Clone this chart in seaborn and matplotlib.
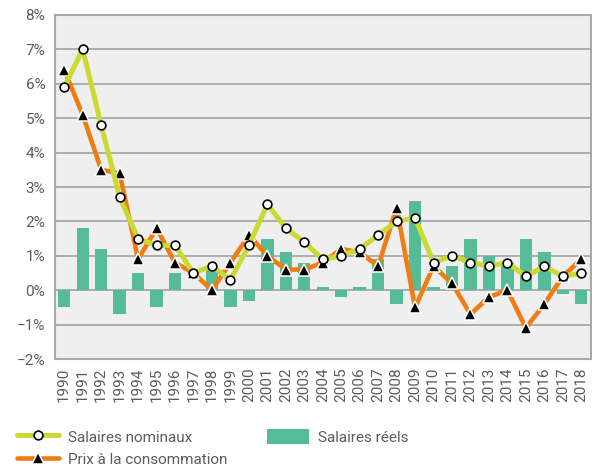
import numpy as np
import pandas as pd
import matplotlib
matplotlib.use("Agg")
import matplotlib.pyplot as plt
from matplotlib.lines import Line2D
from matplotlib.patches import Patch
from matplotlib.ticker import PercentFormatter, MultipleLocator, FixedLocator
import seaborn as sns

# données (variation annuelle en %)
years = [str(y) for y in range(1990, 2019)]
nominal = [5.9, 7.0, 4.8, 2.7, 1.5, 1.3, 1.3, 0.5, 0.7, 0.3,
           1.3, 2.5, 1.8, 1.4, 0.9, 1.0, 1.2, 1.6, 2.0, 2.1,
           0.8, 1.0, 0.8, 0.7, 0.8, 0.4, 0.7, 0.4, 0.5]
prices = [6.4, 5.1, 3.5, 3.4, 0.9, 1.8, 0.8, 0.5, 0.0, 0.8,
          1.6, 1.0, 0.6, 0.6, 0.8, 1.2, 1.1, 0.7, 2.4, -0.5,
          0.7, 0.2, -0.7, -0.2, 0.0, -1.1, -0.4, 0.4, 0.9]
real = [-0.5, 1.8, 1.2, -0.7, 0.5, -0.5, 0.5, 0.0, 0.6, -0.5,
        -0.3, 1.5, 1.1, 0.8, 0.1, -0.2, 0.1, 0.9, -0.4, 2.6,
        0.1, 0.7, 1.5, 1.0, 0.8, 1.5, 1.1, -0.1, -0.4]

labels = ["Salaires nominaux", "Prix à la consommation", "Salaires réels"]

c_nom = "#ccd932"
c_prix = "#f07d14"
c_reel = "#56bb97"
c_text = "#5c5c5c"
c_grid = "#a8a8a8"

df = pd.DataFrame({"annee": years, "nominal": nominal, "prix": prices, "reel": real})

sns.set_style("white")
plt.rcParams["font.family"] = ["Roboto", "DejaVu Sans"]

fig = plt.figure(figsize=(5.92, 4.73), dpi=100)
ax = fig.add_axes([55 / 592, 1 - 359 / 473, 535.5 / 592, 344 / 473])
ax.set_facecolor("#efefef")

sns.barplot(data=df, x="annee", y="reel", color=c_reel, saturation=1,
            width=0.67, errorbar=None, ax=ax, zorder=2)
for p in ax.patches:
    p.set_edgecolor("none")

sns.pointplot(data=df, x="annee", y="prix", color=c_prix, markers="^",
              errorbar=None, ax=ax, linewidth=3.3, markersize=8.5,
              markerfacecolor="black", markeredgecolor="white",
              markeredgewidth=1.1, zorder=3)
sns.pointplot(data=df, x="annee", y="nominal", color=c_nom, markers="o",
              errorbar=None, ax=ax, linewidth=3.6, markersize=6.3,
              markerfacecolor="white", markeredgecolor="black",
              markeredgewidth=1.2, zorder=4)

ax.set_xlim(-0.5, len(years) - 0.5)
ax.set_ylim(-2, 8)
ax.yaxis.set_major_locator(MultipleLocator(1))
ax.yaxis.set_major_formatter(PercentFormatter(decimals=0))
ax.grid(axis="y", color=c_grid, linewidth=1.3, zorder=1)
ax.set_axisbelow(True)
for s in ax.spines.values():
    s.set_color(c_grid)
    s.set_linewidth(1.5)

ax.set_xlabel("")
ax.set_ylabel("")
ax.xaxis.set_minor_locator(FixedLocator(np.arange(-0.5, len(years), 1)))
ax.tick_params(axis="x", which="major", length=0, pad=6, labelrotation=90,
               labelsize=11, labelcolor=c_text)
ax.tick_params(axis="x", which="minor", length=3.5, color=c_grid, width=1)
ax.tick_params(axis="y", length=3, color=c_grid, pad=4,
               labelsize=11, labelcolor=c_text)

handles = [
    Line2D([], [], color=c_nom, linewidth=3.6, marker="o", markersize=6.3,
           markerfacecolor="white", markeredgecolor="black", markeredgewidth=1.2),
    Line2D([], [], color=c_prix, linewidth=3.3, marker="^", markersize=8.5,
           markerfacecolor="black", markeredgecolor="white", markeredgewidth=1.1),
    Patch(facecolor=c_reel, edgecolor="none"),
]
fig.legend(handles, labels, ncol=2, loc="upper left",
           bbox_to_anchor=(3 / 592, 1 - 415 / 473), frameon=False,
           fontsize=11, labelcolor=c_text, handlelength=2.75,
           handleheight=1.2, handletextpad=0.6, columnspacing=2.6,
           labelspacing=0.42)

fig.savefig("out.png", dpi=100)
